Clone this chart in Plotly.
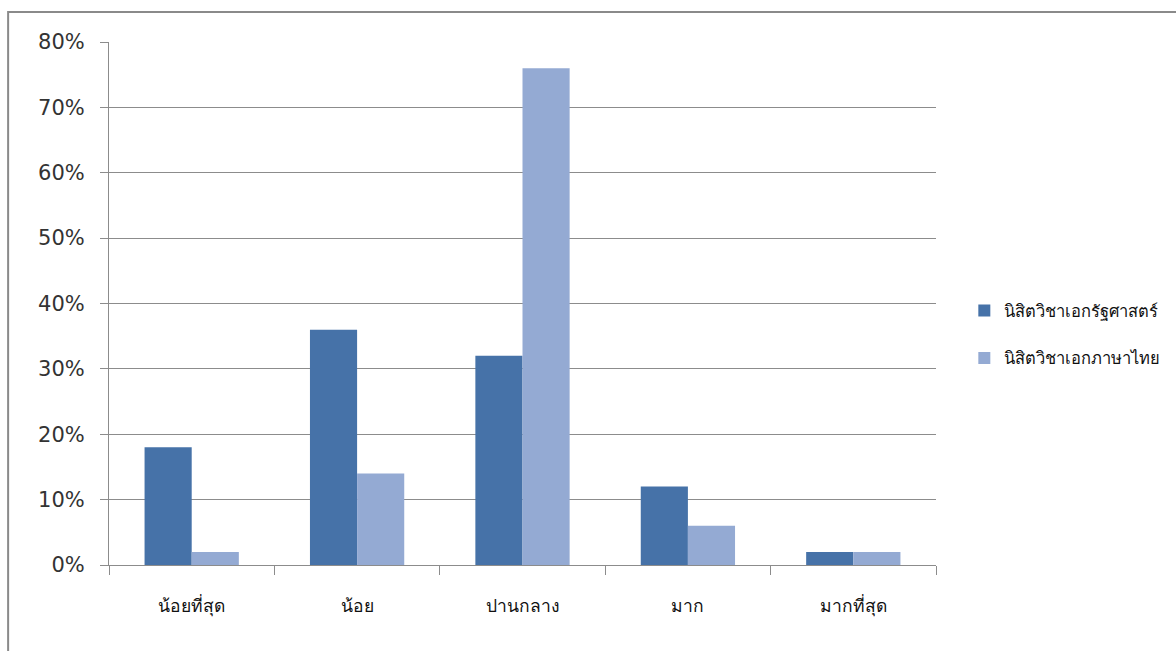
import plotly.graph_objects as go

# Survey response levels (x categories)
categories = ["น้อยที่สุด", "น้อย", "ปานกลาง", "มาก", "มากที่สุด"]

# Percentage of students per level, by major
series_names = ["นิสิตวิชาเอกรัฐศาสตร์", "นิสิตวิชาเอกภาษาไทย"]
political_science = [18, 36, 32, 12, 2]
thai_language = [2, 14, 76, 6, 2]

y_ticks = [0, 10, 20, 30, 40, 50, 60, 70, 80]
y_tick_labels = [f"{v}%" for v in y_ticks]

colors = ["#4672A8", "#94AAD3"]

W, H = 1176, 651
ML, MR, MT, MB = 109, 239, 42, 86
plot_w = W - ML - MR
plot_h = H - MT - MB

fig = go.Figure()
for i, (name, vals) in enumerate(zip(series_names, [political_science, thai_language])):
    fig.add_trace(go.Bar(
        x=categories, y=vals, name=name,
        marker=dict(color=colors[i], line=dict(width=0)),
        legendgroup=f"g{i}",
    ))

axis_gray = "#8C8C8C"

fig.update_layout(
    width=W, height=H,
    margin=dict(l=ML, r=MR, t=MT, b=MB),
    paper_bgcolor="white", plot_bgcolor="white",
    barmode="group", bargap=0.43, bargroupgap=0,
    font=dict(family="DejaVu Sans", color="#222222"),
    showlegend=True,
    legend=dict(
        x=1.033, y=0.441, xanchor="left", yanchor="middle",
        traceorder="grouped", tracegroupgap=23,
        font=dict(size=16.5, color="#111111"),
        bgcolor="rgba(0,0,0,0)",
    ),
)

fig.update_xaxes(
    showgrid=False,
    showline=True, linecolor=axis_gray, linewidth=1,
    ticks="outside", tickson="boundaries", ticklen=9, tickcolor=axis_gray,
    tickfont=dict(size=17.5, color="#111111"),
    ticklabelstandoff=25,
)

fig.update_yaxes(
    range=[0, 80],
    tickvals=y_ticks, ticktext=y_tick_labels,
    showgrid=True, gridcolor=axis_gray, gridwidth=1,
    showline=True, linecolor=axis_gray, linewidth=1,
    ticks="outside", ticklen=8, tickcolor=axis_gray,
    tickfont=dict(size=21, color="#333333"),
    ticklabelstandoff=11,
    zeroline=False,
)

# Outer chart frame
fig.add_shape(
    type="rect", xref="paper", yref="paper",
    x0=(8 - ML) / plot_w, x1=(W + 20 - ML) / plot_w,
    y0=-(H + 20 - MT - plot_h) / plot_h, y1=(H - MB - 12) / plot_h,
    line=dict(color="#8A8A8A", width=2), fillcolor="rgba(0,0,0,0)",
    layer="below",
)

fig.write_html("out.html")
